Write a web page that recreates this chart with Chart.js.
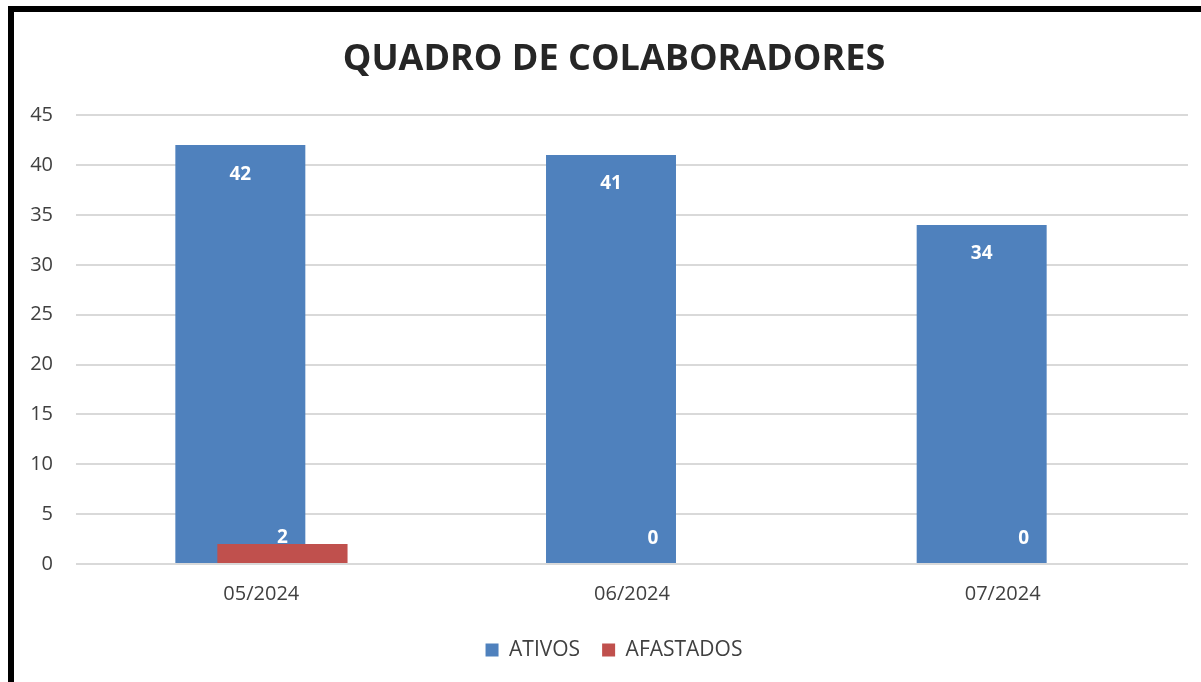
<!DOCTYPE html>
<html>
<head>
<meta charset="utf-8">
<script src="https://cdn.jsdelivr.net/npm/chart.js@4/dist/chart.umd.min.js"></script>
<style>
	html, body { margin: 0; padding: 0; background: #fff; overflow: hidden; }
	#frame {
		position: absolute;
		left: 8px; top: 6px;
		width: 1193px; height: 676px;
		border-top: 6px solid #000;
		border-left: 6px solid #000;
		box-sizing: border-box;
	}
	#chart { display: block; }
</style>
</head>
<body>
<div id="frame"><canvas id="chart" width="1187" height="670"></canvas></div>
<script>
(() => {
	'use strict'

	const months = ['05/2024', '06/2024', '07/2024'];
	const ativos = [42, 41, 34];
	const afastados = [2, 0, 0];
	const yTicks = [0, 5, 10, 15, 20, 25, 30, 35, 40, 45];

	const blueColor = '#4F81BD';
	const redColor = '#C0504D';
	const textColor = '#404040';
	const gridColor = '#D9D9D9';
	const fontFamily = "'Open Sans', 'Liberation Sans', sans-serif";

	// Excel style: second series overlaps the first, and labels sit inside the bar end
	const overlapLabels = {
		id: 'overlapLabels',
		afterDatasetsDraw(chart) {
			// redraw afastados on top of ativos
			chart.getDatasetMeta(1).controller.draw();

			const ctx = chart.ctx;
			ctx.save();
			ctx.fillStyle = '#fff';
			ctx.font = 'bold 19px ' + fontFamily;
			ctx.textAlign = 'center';
			ctx.textBaseline = 'middle';
			chart.data.datasets.forEach((ds, i) => {
				const meta = chart.getDatasetMeta(i);
				meta.data.forEach((bar, j) => {
					const y = Math.min(bar.y + 29, bar.base - 25);
					ctx.fillText(String(ds.data[j]), bar.x, y);
				});
			});
			ctx.restore();
		}
	};

	const data = {
		labels: months,
		datasets: [
			{
				label: 'ATIVOS',
				data: ativos,
				backgroundColor: blueColor,
				categoryPercentage: 0.2266,
				barPercentage: 3.095
			},
			{
				label: 'AFASTADOS',
				data: afastados,
				backgroundColor: redColor,
				categoryPercentage: 0.2266,
				barPercentage: 3.095
			}
		]
	};

	const config = {
		type: 'bar',
		data: data,
		options: {
			responsive: false,
			animation: false,
			layout: {
				// negative right padding + empty right axis keeps title/legend centred like Excel
				padding: { left: 0, right: -13, top: 0, bottom: 11.5 }
			},
			plugins: {
				tooltip: { enabled: false },
				title: {
					display: true,
					text: 'QUADRO DE COLABORADORES',
					color: '#262626',
					font: { family: fontFamily, size: 36, weight: 'bold' },
					padding: { top: 26, bottom: 34 }
				},
				legend: {
					position: 'bottom',
					labels: {
						color: textColor,
						font: { family: fontFamily, size: 21 },
						boxWidth: 13,
						boxHeight: 13,
						padding: 22
					}
				}
			},
			scales: {
				y: {
					min: 0,
					max: 45,
					afterFit(scale) { scale.width = 62; },
					afterBuildTicks(scale) { scale.ticks = yTicks.map(v => ({ value: v })); },
					ticks: {
						color: textColor,
						font: { family: fontFamily, size: 20 },
						padding: 23
					},
					grid: {
						color: gridColor,
						lineWidth: 2,
						drawTicks: false
					},
					border: { display: false }
				},
				y2: {
					type: 'linear',
					position: 'right',
					display: true,
					min: 0,
					max: 45,
					afterFit(scale) { scale.width = 26; },
					ticks: { display: false },
					grid: { display: false, drawTicks: false },
					border: { display: false }
				},
				x: {
					afterFit(scale) { scale.height = 53.5; },
					ticks: {
						color: textColor,
						font: { family: fontFamily, size: 20 },
						padding: 18
					},
					grid: { display: false, drawTicks: false },
					border: { display: false }
				}
			}
		},
		plugins: [overlapLabels]
	};

	new Chart(document.getElementById('chart'), config);
})()
</script>
</body>
</html>
